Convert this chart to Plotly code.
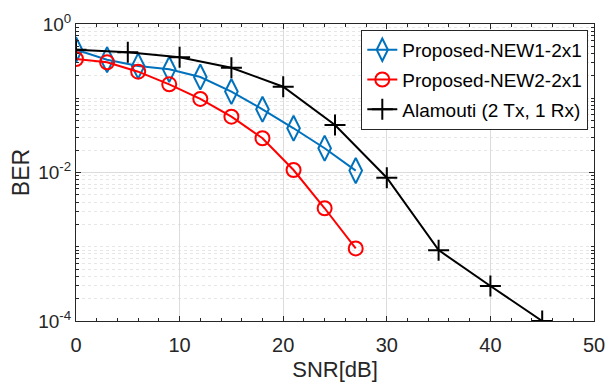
import plotly.graph_objects as go

snr_new = [0, 3, 6, 9, 12, 15, 18, 21, 24, 27]
ber_new1 = [0.45, 0.33, 0.272, 0.245, 0.193, 0.123, 0.071, 0.0394, 0.0212, 0.0106]
ber_new2 = [0.338, 0.305, 0.228, 0.154, 0.098, 0.0565, 0.0289, 0.0108, 0.0033, 0.00095]
snr_ala = [0, 5, 10, 15, 20, 25, 30, 35, 40, 45]
ber_ala = [0.45, 0.416, 0.356, 0.258, 0.143, 0.0436, 0.0085, 0.0009, 0.000296, 0.0001]

names = ["Proposed-NEW1-2x1", "Proposed-NEW2-2x1", "Alamouti (2 Tx, 1 Rx)"]
x_ticks = [0, 10, 20, 30, 40, 50]
y_ticks = [1e-4, 1e-2, 1]
y_ticktext = ["10<sup>-4</sup>", "10<sup>-2</sup>", "10<sup>0</sup>"]

FONT = "Liberation Sans, Arial, sans-serif"
AX = "#262626"

fig = go.Figure()
fig.add_trace(go.Scatter(x=snr_new, y=ber_new1, name=names[0], mode="lines+markers",
                         line=dict(color="#0072BD", width=2),
                         marker=dict(symbol="diamond-tall-open", size=18, color="#0072BD",
                                     line=dict(width=2, color="#0072BD")),
                         legendgroup="a"))
fig.add_trace(go.Scatter(x=snr_new, y=ber_new2, name=names[1], mode="lines+markers",
                         line=dict(color="#FF0000", width=2),
                         marker=dict(symbol="circle-open", size=14, color="#FF0000",
                                     line=dict(width=2, color="#FF0000")),
                         legendgroup="b"))
fig.add_trace(go.Scatter(x=snr_ala, y=ber_ala, name=names[2], mode="lines+markers",
                         line=dict(color="#000000", width=2),
                         marker=dict(symbol="cross-thin-open", size=15, color="#000000",
                                     line=dict(width=2, color="#000000")),
                         legendgroup="c"))

minor_y = []
for e in [-4, -3, -2, -1]:
    for m in range(1, 10):
        v = m * 10 ** e
        if v not in y_ticks:
            minor_y.append(v)

fig.update_layout(
    width=606, height=385,
    margin=dict(l=76, r=12, t=24, b=64),
    paper_bgcolor="white", plot_bgcolor="white",
    font=dict(family=FONT, color=AX, size=19),
    showlegend=True,
    legend=dict(x=0.989, y=0.98, xanchor="right", yanchor="top",
                bgcolor="white", bordercolor=AX, borderwidth=1,
                font=dict(size=19, color="#000000", family=FONT),
                tracegroupgap=2, itemwidth=30),
    xaxis=dict(range=[0, 50], tickvals=x_ticks, ticks="inside", ticklen=5,
               tickcolor=AX, showline=True, linecolor=AX, linewidth=1, mirror="ticks",
               showgrid=True, gridcolor="#dcdcdc", gridwidth=1, zeroline=False,
               automargin=False, ticklabelstandoff=6,
               minor=dict(dtick=2, tick0=0, ticks="inside", ticklen=3, tickcolor=AX, showgrid=False),
               title=dict(text="SNR[dB]", font=dict(size=22), standoff=6),
               tickfont=dict(size=20)),
    yaxis=dict(type="log", range=[-4, 0], tickvals=y_ticks, ticktext=y_ticktext,
               ticks="inside", ticklen=5, tickcolor=AX, showline=True, linecolor=AX,
               linewidth=1, mirror="ticks", showgrid=True, gridcolor="#dcdcdc", gridwidth=1,
               zeroline=False, automargin=False,
               minor=dict(tickvals=minor_y, ticks="inside", ticklen=3, tickcolor=AX,
                          showgrid=True, gridcolor="#e6e6e6", griddash="dot", gridwidth=1),
               title=dict(text="BER", font=dict(size=23), standoff=2),
               tickfont=dict(size=19)),
)

fig.write_html("out.html")
